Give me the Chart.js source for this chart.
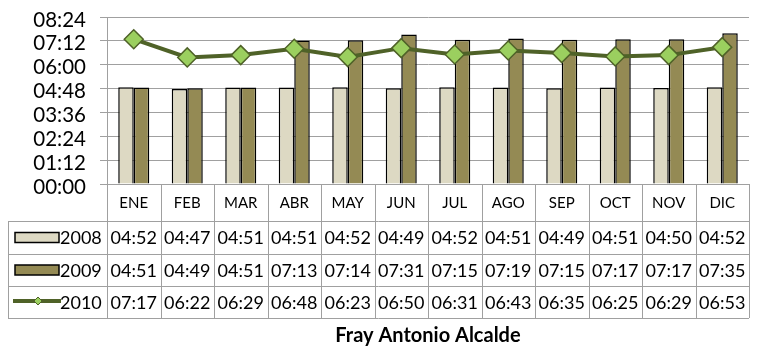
<!DOCTYPE html>
<html>
<head>
<meta charset="utf-8">
<script src="https://cdn.jsdelivr.net/npm/chart.js@4.4.1/dist/chart.umd.min.js"></script>
<style>
  html, body { margin: 0; padding: 0; background: #fff; }
  #wrap { width: 760px; height: 348px; }
</style>
</head>
<body>
<div id="wrap"><canvas id="chart" width="760" height="348"></canvas></div>
<script>
const months = ['ENE', 'FEB', 'MAR', 'ABR', 'MAY', 'JUN', 'JUL', 'AGO', 'SEP', 'OCT', 'NOV', 'DIC'];
const seriesNames = ['2008', '2009', '2010'];
const times2008 = ['04:52', '04:47', '04:51', '04:51', '04:52', '04:49', '04:52', '04:51', '04:49', '04:51', '04:50', '04:52'];
const times2009 = ['04:51', '04:49', '04:51', '07:13', '07:14', '07:31', '07:15', '07:19', '07:15', '07:17', '07:17', '07:35'];
const times2010 = ['07:17', '06:22', '06:29', '06:48', '06:23', '06:50', '06:31', '06:43', '06:35', '06:25', '06:29', '06:53'];
const yTickMinutes = [0, 72, 144, 216, 288, 360, 432, 504];
const chartTitle = 'Fray Antonio Alcalde';

const FONT = 'Lato, "Open Sans", sans-serif';
const GRID = '#a0a0a0';

function toMinutes(t) {
    const parts = t.split(':');
    return Number(parts[0]) * 60 + Number(parts[1]);
}

function fmt(min) {
    const h = String(Math.floor(min / 60)).padStart(2, '0');
    const m = String(min % 60).padStart(2, '0');
    return h + ':' + m;
}

const colors = {
    c2008: '#ddd9c3',
    c2009: '#948a54',
    line: '#4f6228',
    marker: '#9bcf5f'
};

// table under the plot, drawn from the x scale positions
const dataTable = {
    id: 'dataTable',
    afterDraw(chart) {
        const ctx = chart.ctx;
        const area = chart.chartArea;
        const x = chart.scales.x;
        const top = area.bottom;
        const rows = [top, 221, 254, 286, 318];
        const left = 8;
        const right = area.right;
        const step = x.getPixelForValue(1) - x.getPixelForValue(0);
        const tables = [times2008, times2009, times2010];

        ctx.save();
        ctx.strokeStyle = GRID;
        ctx.lineWidth = 1;
        ctx.beginPath();
        for (let r = 1; r < rows.length; r++) {
            ctx.moveTo(left, rows[r] + 0.5);
            ctx.lineTo(right, rows[r] + 0.5);
        }
        ctx.moveTo(left + 0.5, rows[1]);
        ctx.lineTo(left + 0.5, rows[4]);
        for (let i = 0; i <= months.length; i++) {
            const px = Math.round(x.getPixelForValue(i) - step / 2) + 0.5;
            ctx.moveTo(px, top);
            ctx.lineTo(px, rows[4]);
        }
        ctx.stroke();

        ctx.fillStyle = '#000';
        ctx.textBaseline = 'middle';
        ctx.textAlign = 'center';
        ctx.font = '15px ' + FONT;
        months.forEach((m, i) => {
            ctx.fillText(m, x.getPixelForValue(i), (rows[0] + rows[1]) / 2 + 1);
        });
        ctx.font = '18px ' + FONT;
        tables.forEach((vals, r) => {
            const cy = (rows[r + 1] + rows[r + 2]) / 2 + 1;
            vals.forEach((v, i) => {
                ctx.fillText(v, x.getPixelForValue(i), cy);
            });
        });

        // legend keys
        ctx.textAlign = 'left';
        tables.forEach((vals, r) => {
            const cy = (rows[r + 1] + rows[r + 2]) / 2;
            if (r < 2) {
                ctx.fillStyle = r === 0 ? colors.c2008 : colors.c2009;
                ctx.fillRect(15, cy - 5, 44, 10);
                ctx.strokeStyle = '#000';
                ctx.lineWidth = 1.5;
                ctx.strokeRect(15, cy - 5, 44, 10);
            } else {
                ctx.strokeStyle = colors.line;
                ctx.lineWidth = 4;
                ctx.beginPath();
                ctx.moveTo(13, cy - 1);
                ctx.lineTo(61, cy - 1);
                ctx.stroke();
                ctx.fillStyle = colors.marker;
                ctx.strokeStyle = colors.line;
                ctx.lineWidth = 1;
                ctx.beginPath();
                ctx.moveTo(38, cy - 5);
                ctx.lineTo(42, cy - 1);
                ctx.lineTo(38, cy + 3);
                ctx.lineTo(34, cy - 1);
                ctx.closePath();
                ctx.fill();
                ctx.stroke();
            }
            ctx.fillStyle = '#000';
            ctx.fillText(seriesNames[r], 60, cy + 1);
        });
        ctx.restore();
    }
};

new Chart(document.getElementById('chart'), {
    data: {
        labels: months,
        datasets: [
            {
                type: 'line',
                label: seriesNames[2],
                data: times2010.map(toMinutes),
                borderColor: colors.line,
                borderWidth: 4,
                pointStyle: 'rectRot',
                pointRadius: 9.5,
                pointBackgroundColor: colors.marker,
                pointBorderColor: colors.line,
                pointBorderWidth: 1.5,
                tension: 0,
                order: 0
            },
            {
                type: 'bar',
                label: seriesNames[0],
                data: times2008.map(toMinutes),
                backgroundColor: colors.c2008,
                borderColor: '#000',
                borderWidth: 1.5,
                categoryPercentage: 0.58,
                barPercentage: 1,
                order: 1
            },
            {
                type: 'bar',
                label: seriesNames[1],
                data: times2009.map(toMinutes),
                backgroundColor: colors.c2009,
                borderColor: '#000',
                borderWidth: 1.5,
                categoryPercentage: 0.58,
                barPercentage: 1,
                order: 1
            }
        ]
    },
    options: {
        responsive: false,
        animation: false,
        layout: { padding: { top: 17, right: 2, left: 0, bottom: 0 } },
        scales: {
            x: {
                grid: { display: false, drawTicks: false },
                border: { color: GRID, width: 1 },
                ticks: { display: false },
                afterFit: (scale) => { scale.height = 134; }
            },
            y: {
                min: 0,
                max: 504,
                afterBuildTicks: (scale) => {
                    scale.ticks = yTickMinutes.map(v => ({ value: v }));
                },
                afterFit: (scale) => {
                    scale.width = 107;
                    scale.paddingTop = 0;
                    scale.paddingBottom = 0;
                },
                grid: { color: GRID, tickLength: 7 },
                border: { color: GRID },
                ticks: {
                    color: '#000',
                    autoSkip: false,
                    font: { family: FONT, size: 20.5 },
                    padding: 14,
                    labelOffset: 3,
                    callback: (v) => fmt(v)
                }
            }
        },
        plugins: {
            legend: { display: false },
            tooltip: { enabled: false },
            title: {
                display: true,
                position: 'bottom',
                fullSize: false,
                text: chartTitle,
                color: '#000',
                font: { family: FONT, size: 20, weight: 'bold', lineHeight: 1.2 },
                padding: { top: 6, bottom: 0 }
            }
        }
    },
    plugins: [dataTable]
});
</script>
</body>
</html>
